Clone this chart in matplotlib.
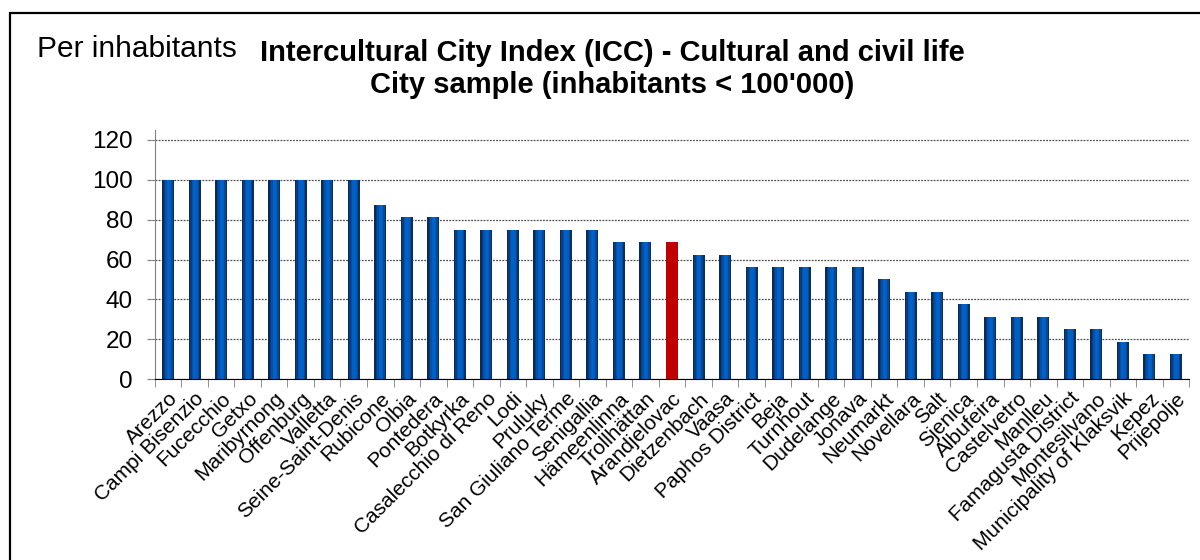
import numpy as np
import matplotlib
matplotlib.use("Agg")
import matplotlib.pyplot as plt
from matplotlib.patches import Rectangle

plt.rcParams['font.family'] = ['Liberation Sans', 'DejaVu Sans']

cities = ["Arezzo", "Campi Bisenzio", "Fucecchio", "Getxo", "Maribyrnong", "Offenburg",
          "Valletta", "Seine-Saint-Denis", "Rubicone", "Olbia", "Pontedera", "Botkyrka",
          "Casalecchio di Reno", "Lodi", "Pruluky", "San Giuliano Terme", "Senigallia",
          "Hämeenlinna", "Trollhättan", "Arandjelovac", "Dietzenbach", "Vaasa",
          "Paphos District", "Beja", "Turnhout", "Dudelange", "Jonava", "Neumarkt",
          "Novellara", "Salt", "Sjenica", "Albufeira", "Castelvetro", "Manlleu",
          "Famagusta District", "Montesilvano", "Municipality of Klaksvik", "Kepez", "Prijepolje"]
scores = [100, 100, 100, 100, 100, 100, 100, 100, 87.5, 81.25, 81.25, 75,
          75, 75, 75, 75, 75, 68.75, 68.75, 68.75, 62.5, 62.5,
          56.25, 56.25, 56.25, 56.25, 56.25, 50, 43.75, 43.75, 37.5, 31.25,
          31.25, 31.25, 25, 25, 18.75, 12.5, 12.5]
highlight = "Arandjelovac"
yticks = [0, 20, 40, 60, 80, 100, 120]

fig = plt.figure(figsize=(12, 5.6), dpi=100)
ax = fig.add_axes([0.129, 0.323, 0.862, 0.445])

x = np.arange(len(cities))
width = 0.45

# shaded bars: draw each bar as a few thin vertical strips (dark edges, bright middle)
shades = ["#0b2a55", "#0c3c7a", "#0052ab", "#0060c6", "#0062ca", "#005cbe", "#0a4893", "#0b2f60"]
n = len(shades)
sw = width / n
for i, c in enumerate(shades):
    cols = ["#c00000" if name == highlight else c for name in cities]
    ax.bar(x - width / 2 + (i + 0.5) * sw, scores, width=sw * 1.02, color=cols,
           linewidth=0, zorder=2)

ax.set_xlim(-0.5, len(cities) - 0.5)
ax.set_ylim(0, 125)
ax.set_yticks(yticks)
ax.tick_params(axis='y', labelsize=17.5, length=6, color="#808080", direction='out', pad=10)
ax.set_xticks(x)
ax.set_xticklabels(cities, rotation=45, ha='right', rotation_mode='anchor', fontsize=15)
ax.tick_params(axis='x', length=0, pad=7)
ax.set_xticks(np.arange(len(cities) + 1) - 0.5, minor=True)
ax.tick_params(axis='x', which='minor', length=6, color="#808080", direction='out')
ax.yaxis.grid(True, linestyle=(0, (1.5, 1)), color="#505050", linewidth=0.9, zorder=0)
ax.set_axisbelow(True)
for s in ['top', 'right']:
    ax.spines[s].set_visible(False)
ax.spines['left'].set_color("#808080")
ax.spines['bottom'].set_color("#000000")

fig.text(0.51, 0.906, "Intercultural City Index (ICC) - Cultural and civil life",
         ha='center', va='center', fontsize=21, fontweight='bold')
fig.text(0.51, 0.848, "City sample (inhabitants < 100'000)",
         ha='center', va='center', fontsize=21, fontweight='bold')
fig.text(0.031, 0.912, "Per inhabitants", ha='left', va='center', fontsize=21.5)

fig.patches.append(Rectangle((10 / 1200, -0.2), 1.2, 1.2 - 13 / 560, transform=fig.transFigure,
                             fill=False, edgecolor="black", linewidth=1.6))

fig.savefig("out.png", dpi=100)
